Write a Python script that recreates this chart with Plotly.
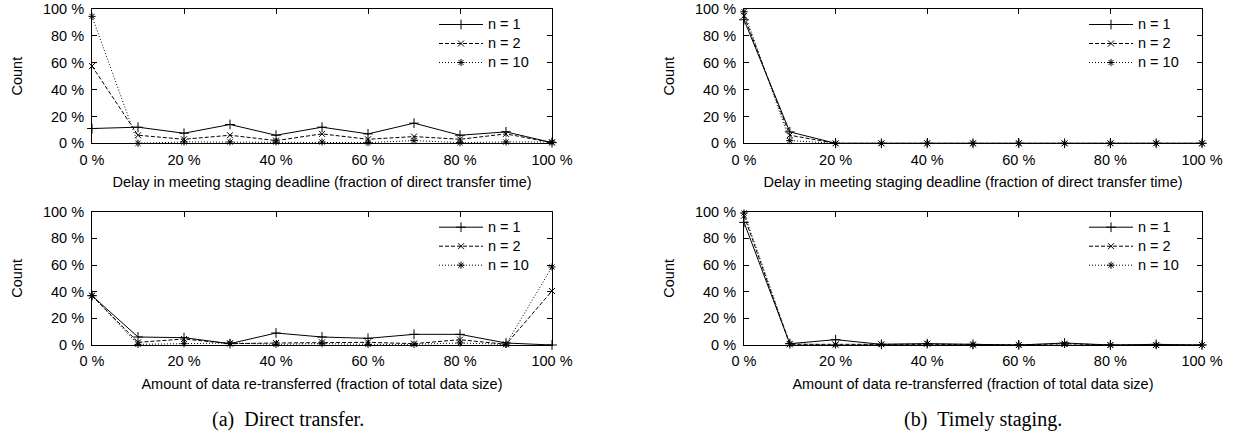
import plotly.graph_objects as go

x_pct = [0, 10, 20, 30, 40, 50, 60, 70, 80, 90, 100]
tick_vals = [0, 20, 40, 60, 80, 100]
tick_text = ["0 %", "20 %", "40 %", "60 %", "80 %", "100 %"]

series_names = ["n = 1", "n = 2", "n = 10"]

# (a) Direct transfer - delay
a_delay_n1 = [11, 12, 7.5, 14, 6, 12, 7, 15, 6, 8.5, 0.5]
a_delay_n2 = [57.5, 6, 3, 6, 2, 7, 3, 5, 3, 7, 0.5]
a_delay_n10 = [94.5, 0, 1, 1, 1, 1, 0.5, 2, 0.5, 1, 1]
# (a) Direct transfer - re-transferred data
a_retx_n1 = [37, 6, 5.5, 1, 9, 6, 5, 8, 8, 1.5, 0]
a_retx_n2 = [37, 2, 4.5, 1, 1.5, 2, 2, 1, 4, 0.5, 40.5]
a_retx_n10 = [37, 0.5, 1, 1.5, 0.5, 1, 0.5, 0.5, 1.5, 0.5, 58.5]
# (b) Timely staging - delay
b_delay_n1 = [92, 8.5, 0, 0, 0, 0, 0, 0, 0, 0, 0]
b_delay_n2 = [95, 6, 0, 0, 0, 0, 0, 0, 0, 0, 0]
b_delay_n10 = [98, 2, 0, 0, 0, 0, 0, 0, 0, 0, 0]
# (b) Timely staging - re-transferred data
b_retx_n1 = [92, 1, 4, 0.5, 1, 0.5, 0, 1.5, 0, 0.5, 0]
b_retx_n2 = [97, 0.5, 0.5, 0.5, 1, 0.5, 0, 1, 0, 0, 0]
b_retx_n10 = [99, 1, 0, 0.5, 1, 0, 0, 0.5, 0, 0, 0]

x_title_delay = "Delay in meeting staging deadline (fraction of direct transfer time)"
x_title_retx = "Amount of data re-transferred (fraction of total data size)"
y_title = "Count"
captions = ["(a)\u00a0\u00a0Direct transfer.", "(b)\u00a0\u00a0Timely staging."]

W, H = 1234, 432
OFF = 0
FONT = "Liberation Sans, Arial, Helvetica, sans-serif"
FS = 14.5
LEG_FS = 12.3

styles = [
    dict(dash="solid", symbol="cross-thin-open", size=7),
    dict(dash="4px,2px", symbol="x-thin-open", size=6),
    dict(dash="1px,2px", symbol="asterisk-open", size=6),
]

panels = [
    ("x", "y", [a_delay_n1, a_delay_n2, a_delay_n10], "legend", x_title_delay),
    ("x2", "y2", [a_retx_n1, a_retx_n2, a_retx_n10], "legend2", x_title_retx),
    ("x3", "y3", [b_delay_n1, b_delay_n2, b_delay_n10], "legend3", x_title_delay),
    ("x4", "y4", [b_retx_n1, b_retx_n2, b_retx_n10], "legend4", x_title_retx),
]

fig = go.Figure()
for xa, ya, data, leg, _ in panels:
    for name, vals, st in zip(series_names, data, styles):
        fig.add_trace(go.Scatter(
            x=x_pct, y=vals,
            name=f'<span style="font-size:{FS}px">{name}</span>',
            xaxis=xa, yaxis=ya, legend=leg,
            mode="lines+markers",
            line=dict(color="black", width=1, dash=st["dash"]),
            marker=dict(symbol=st["symbol"], size=st["size"], color="black",
                        line=dict(color="black", width=1)),
            cliponaxis=False,
        ))

def px_x(p):
    return (p - OFF) / W

def px_y(p):
    return 1 - (p - OFF) / H

left_dom = [px_x(92), px_x(552)]
right_dom = [px_x(744), px_x(1202)]
top_dom = [px_y(143.3), px_y(9)]
bot_dom = [px_y(345), px_y(211.7)]

domains = {
    "x": (left_dom, top_dom),
    "x2": (left_dom, bot_dom),
    "x3": (right_dom, top_dom),
    "x4": (right_dom, bot_dom),
}

axis_common = dict(
    showline=True, linecolor="black", linewidth=1, mirror="ticks",
    ticks="inside", ticklen=5, tickcolor="black", tickwidth=1,
    showgrid=False, zeroline=False, automargin=False,
    ticklabeloverflow="allow",
    tickfont=dict(family=FONT, size=FS, color="black"),
)

layout = dict(
    template="none",
    width=W, height=H, autosize=False,
    margin=dict(l=0, r=0, t=0, b=0, pad=0),
    paper_bgcolor="white", plot_bgcolor="white",
    font=dict(family=FONT, size=FS, color="black"),
)

for i, (xa, ya, data, leg, xtitle) in enumerate(panels):
    xd, yd = domains[xa]
    suffix = "" if i == 0 else str(i + 1)
    layout["xaxis" + suffix] = dict(
        domain=xd, anchor=ya, range=[0, 100],
        tickvals=tick_vals, ticktext=tick_text, ticklabelstandoff=3,
        title=dict(text=xtitle, standoff=10, font=dict(family=FONT, size=FS)),
        **axis_common,
    )
    layout["yaxis" + suffix] = dict(
        domain=yd, anchor=xa, range=[0, 100],
        tickvals=tick_vals, ticktext=tick_text, ticklabelstandoff=4,
        title=dict(text=y_title, standoff=16, font=dict(family=FONT, size=FS)),
        **axis_common,
    )
    layout[leg] = dict(
        x=xd[1] - 18 / W, y=yd[1] - 1 / H, xanchor="right", yanchor="top",
        bgcolor="rgba(0,0,0,0)", borderwidth=0,
        font=dict(family=FONT, size=LEG_FS, color="black"),
        tracegroupgap=0, itemwidth=44,
    )

fig.update_layout(**layout)

for cap, cx in zip(captions, [288, 983]):
    fig.add_annotation(text=cap, x=px_x(cx), y=px_y(419), xref="paper", yref="paper",
                       showarrow=False, xanchor="center", yanchor="middle",
                       font=dict(family="Liberation Serif, Times New Roman, serif", size=20, color="black"))

fig.write_html("out.html", config={"displayModeBar": False},
               post_script="document.body.style.margin='0px';")
